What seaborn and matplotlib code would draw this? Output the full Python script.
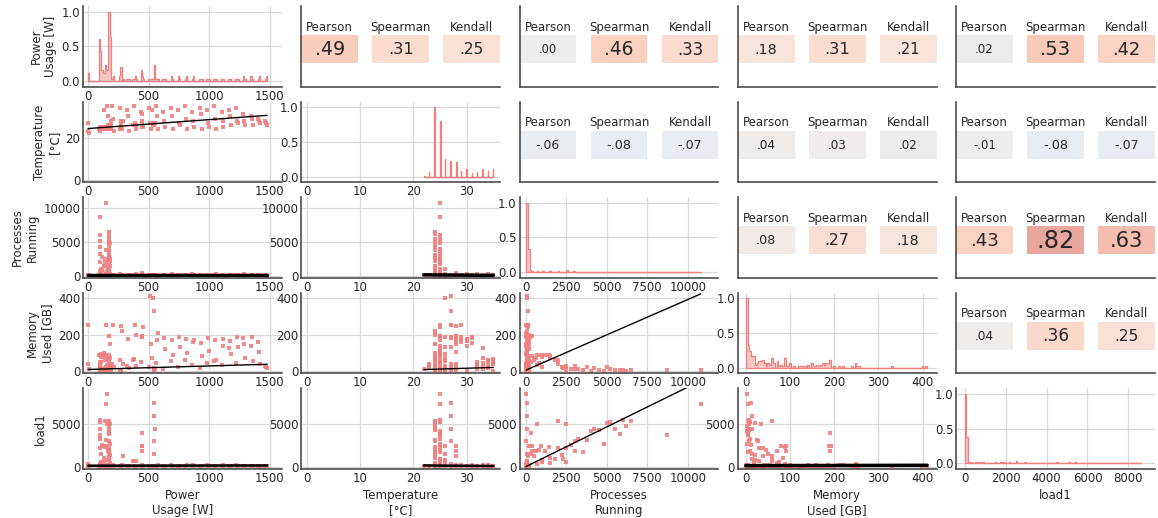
import numpy as np
import pandas as pd
import matplotlib
matplotlib.use("Agg")
import matplotlib.pyplot as plt
import seaborn as sns

# ---------------- data ----------------
var_names = ["power", "temperature", "processes", "memory", "load1"]
axis_labels = ["Power\nUsage [W]", "Temperature\n[°C]", "Processes\nRunning",
               "Memory\nUsed [GB]", "load1"]

# main mass of readings
power_main = [96, 97, 98, 99, 100, 100, 101, 102, 103, 104,
              105, 108, 112, 118, 124, 130, 136, 142, 148, 154,
              160, 165, 170, 172, 174, 176, 177, 178, 179, 180,
              180, 181, 182, 183, 184, 185, 186, 187, 189, 192,
              99, 101, 178, 181, 183, 100, 98, 179, 185, 102,
              268, 270, 271, 272]
temp_main = [24, 24, 25, 24, 24, 25, 24, 25, 24, 24,
             25, 24, 25, 24, 25, 33, 25, 24, 25, 35,
             25, 24, 30, 25, 24, 24, 25, 24, 24, 25,
             24, 25, 24, 24, 25, 24, 25, 24, 28, 26,
             24, 25, 24, 25, 24, 23, 24, 26, 24, 25,
             24, 25, 24, 26]
procs_main = [40, 80, 120, 30, 60, 150, 90, 20, 110, 70,
              50, 130, 25, 95, 160, 45, 75, 35, 140, 65,
              85, 15, 180, 55, 100, 200, 40, 125, 60, 90,
              30, 170, 75, 50, 110, 20, 145, 35, 80, 60,
              10, 95, 70, 130, 45, 25, 115, 55, 190, 85,
              40, 70, 30, 90]
mem_main = [90, 2, 0, 3, 1, 5, 2, 8, 1, 4,
            2, 12, 95, 3, 1, 9, 100, 15, 250, 1,
            3, 7, 2, 1, 5, 0, 190, 4, 1, 3,
            6, 1, 2, 150, 3, 1, 2, 20, 4, 1,
            0, 2, 1, 3, 2, 35, 1, 4, 2, 50,
            3, 1, 6, 2]
load_main = [20, 50, 10, 80, 35, 5, 60, 25, 90, 40,
             15, 70, 30, 110, 45, 0, 55, 20, 130, 65,
             35, 10, 85, 50, 25, 150, 40, 75, 15, 60,
             30, 95, 20, 45, 120, 10, 70, 35, 55, 25,
             5, 80, 40, 100, 20, 60, 30, 140, 15, 50,
             25, 60, 10, 45]

# readings spread over the whole power range
power_stripes = [202, 210, 218, 262, 270, 278, 322, 330, 338, 382, 390, 398, 442, 450, 458,
                 502, 510, 518, 532, 540, 548, 562, 570, 578, 622, 630, 638, 682, 690, 698,
                 742, 750, 758, 802, 810, 818, 862, 870, 878, 922, 930, 938, 982, 990, 998,
                 1042, 1050, 1058, 1102, 1110, 1118, 1162, 1170, 1178, 1222, 1230, 1238,
                 1282, 1290, 1298, 1342, 1350, 1358, 1402, 1410, 1418, 1462, 1470, 1478]
temp_stripes = [35, 29, 23, 34, 28, 24, 33, 30, 23, 35, 27, 24, 32, 31, 25,
                34, 27, 24, 33, 26, 27, 35, 30, 24, 32, 28, 25, 34, 30, 24,
                33, 27, 26, 35, 29, 24, 32, 28, 25, 34, 31, 24, 33, 27, 25,
                35, 29, 24, 32, 28, 25, 33, 30, 26, 34, 28, 27,
                31, 28, 26, 30, 29, 26, 29, 28, 27, 28, 27, 26]
procs_stripes = [30, 120, 60, 200, 40, 90, 15, 150, 70, 110, 25, 180, 60, 90, 140,
                 35, 80, 20, 150, 45, 110, 70, 130, 15, 95, 50, 160, 40, 210, 75,
                 120, 30, 85, 55, 140, 25, 180, 65, 100, 20, 90, 130, 75, 160, 45,
                 100, 35, 190, 60, 120, 15, 140, 50, 85, 30, 110, 65,
                 90, 170, 40, 55, 20, 125, 150, 80, 35, 45, 95, 10]
mem_stripes = [40, 252, 20, 60, 247, 220, 30, 178, 15, 65, 255, 200, 50, 186, 240,
               22, 410, 150, 70, 398, 330, 45, 173, 210, 10, 181, 120, 55, 168, 90,
               25, 189, 130, 62, 176, 100, 35, 160, 170, 17, 152, 80, 42, 183, 110,
               58, 171, 63, 33, 175, 140, 125, 163, 93, 47, 187, 133,
               180, 148, 72, 140, 184, 55, 158, 102, 38, 30, 20, 15]
load_stripes = [60, 150, 20, 90, 40, 200, 30, 110, 70, 120, 10, 80, 50, 170, 95,
                25, 60, 40, 130, 35, 75, 80, 20, 160, 45, 100, 15, 140, 55, 90,
                35, 120, 65, 100, 25, 180, 70, 140, 30, 15, 85, 110, 160, 45, 60,
                20, 130, 75, 95, 40, 150, 55, 110, 25, 140, 60, 85,
                30, 100, 50, 75, 20, 120, 45, 90, 15, 65, 35, 110]

# busy nodes: many processes and high load
power_busy = [176, 178, 100, 175, 177, 103, 176, 180, 174, 101,
              176, 150, 178, 100, 175, 120, 176, 140, 179, 102,
              176, 130, 177, 110, 178, 160, 150, 105, 145, 185,
              170, 180, 100, 176, 178, 178]
temp_busy = [24, 24, 25, 25, 24, 25, 24, 25, 24, 24,
             25, 24, 25, 25, 24, 25, 24, 25, 24, 25,
             25, 24, 24, 25, 25, 24, 25, 24, 25, 24,
             26, 24, 24, 25, 24, 24]
procs_busy = [6500, 6200, 6000, 5800, 5500, 5200, 5000, 4800, 4500, 4200,
              4000, 3800, 3500, 3200, 3000, 2800, 2500, 2500, 2200, 2000,
              1800, 1500, 1200, 1000, 800, 680, 400, 300, 2000, 2500,
              1000, 1500, 700, 2300, 500, 3000]
mem_busy = [5, 3, 8, 4, 6, 10, 20, 2, 7, 15,
            3, 25, 4, 9, 28, 12, 30, 18, 22, 40,
            60, 85, 90, 75, 45, 35, 80, 50, 60, 8,
            20, 70, 88, 15, 60, 10]
load_busy = [5400, 4800, 5500, 3900, 4500, 5300, 5200, 2700, 4300, 4400,
             4200, 3200, 1700, 3300, 3000, 2600, 2200, 600, 1400, 2200,
             900, 1000, 1800, 600, 2000, 5100, 2400, 1500, 5400, 5100,
             800, 400, 300, 900, 1200, 1900]

# load spikes and outliers
power_spike = [157, 150, 103, 549, 548, 550, 546, 547, 445, 443, 446, 444,
               290, 370, 395, 120, 140, 165, 5, 3, 8]
temp_spike = [25, 25, 25, 27, 27, 27, 27, 26, 25, 26, 28, 28,
              28, 26, 26, 25, 24, 24, 27, 23, 22]
procs_spike = [20, 10800, 8700, 60, 40, 80, 30, 50, 300, 250, 200, 350,
               120, 90, 70, 900, 1400, 600, 30, 20, 60]
mem_spike = [2, 5, 5, 12, 15, 10, 8, 14, 190, 188, 192, 190,
             40, 60, 30, 90, 88, 70, 250, 40, 10]
load_spike = [8600, 7400, 3700, 7500, 6000, 4500, 3000, 1500, 4000, 2500, 2500, 1800,
              1300, 700, 700, 2500, 2300, 1900, 300, 100, 50]

df = pd.DataFrame({
    "power": power_main + power_stripes + power_busy + power_spike,
    "temperature": temp_main + temp_stripes + temp_busy + temp_spike,
    "processes": procs_main + procs_stripes + procs_busy + procs_spike,
    "memory": mem_main + mem_stripes + mem_busy + mem_spike,
    "load1": load_main + load_stripes + load_busy + load_spike,
})

# correlation coefficients shown in the upper triangle (row var, col var)
corr_pairs = [(0, 1), (0, 2), (0, 3), (0, 4), (1, 2), (1, 3), (1, 4), (2, 3), (2, 4), (3, 4)]
pearson = [.49, .00, .18, .02, -.06, .04, -.01, .08, .43, .04]
spearman = [.31, .46, .31, .53, -.08, .03, -.08, .27, .82, .36]
kendall = [.25, .33, .21, .42, -.07, .02, -.07, .18, .63, .25]
method_names = ["Pearson", "Spearman", "Kendall"]

# fitted regression lines in the lower triangle (row var = y, col var = x)
reg_pairs = [(1, 0), (2, 0), (2, 1), (3, 0), (3, 1), (3, 2), (4, 0), (4, 1), (4, 2), (4, 3)]
reg_intercept = [24.3, 120, 250, 9, -11.3, 5.7, 110, 250, 10, 120]
reg_slope = [0.0042, 0.0, -6.0, 0.0193, 0.9, 0.0386, 0.02, -5.0, 0.94, 0.1]

# ---------------- style / layout ----------------
sns.set_theme(style="whitegrid", rc={
    "axes.edgecolor": "0.3", "axes.linewidth": 1.2,
    "grid.color": "0.85", "grid.linewidth": 0.9,
    "xtick.labelsize": 8.5, "ytick.labelsize": 8.5, "axes.labelsize": 8.5,
    "text.color": "0.15", "xtick.color": "0.15", "ytick.color": "0.15",
    "axes.labelcolor": "0.15",
    "xtick.major.size": 0, "ytick.major.size": 0,
    "xtick.major.pad": 2, "ytick.major.pad": 2, "axes.labelpad": 3,
})
plt.rcParams["font.family"] = ["DejaVu Sans"]

point_color = "#f08080"
xlims = {"power": (-40, 1600), "temperature": (-1, 36.3), "processes": (-400, 11900),
         "memory": (-18, 432), "load1": (-420, 9300)}
ylims = {"temperature": (-1, 37), "processes": (-350, 11700),
         "memory": (-13, 430), "load1": (-280, 9300)}
xticks = {"power": [0, 500, 1000, 1500], "temperature": [0, 10, 20, 30],
          "processes": [0, 2500, 5000, 7500, 10000], "memory": [0, 100, 200, 300, 400],
          "load1": [0, 2000, 4000, 6000, 8000]}
yticks = {"temperature": [0, 20], "processes": [0, 5000, 10000],
          "memory": [0, 200, 400], "load1": [0, 5000]}
reg_lw = {(2, 0): 2.5, (2, 1): 2.5, (4, 3): 2.5, (4, 0): 1.8, (4, 1): 1.8}

cmap = plt.get_cmap("coolwarm")
norm = plt.Normalize(-1, 1)

fig, axes = plt.subplots(5, 5, figsize=(11.58, 5.18), dpi=100)
fig.subplots_adjust(left=83 / 1158, right=1155 / 1158, top=1 - 6 / 518,
                    bottom=1 - 469 / 518, wspace=0.097, hspace=0.18)

n = len(var_names)
for i in range(n):
    for j in range(n):
        ax = axes[i, j]
        xv, yv = var_names[j], var_names[i]
        if i == j:
            vals = df[xv].to_numpy(dtype=float)
            edges = np.linspace(vals.min(), vals.max(), 151 if xv == "power" else 101)
            counts, _ = np.histogram(vals, bins=edges)
            hd = pd.DataFrame({"v": vals, "w": np.full(len(vals), 1.0 / counts.max())})
            sns.histplot(data=hd, x="v", weights="w", bins=list(edges), ax=ax,
                         element="step", fill=True, color=point_color, alpha=0.45,
                         linewidth=0.9)
            ax.set_ylim(-0.08, 1.08)
            ax.set_yticks([0, 0.5, 1.0])
            ax.set_xlim(*xlims[xv])
            ax.set_xticks(xticks[xv])
            sns.despine(ax=ax)
        elif i > j:
            sns.scatterplot(x=df[xv].to_numpy(), y=df[yv].to_numpy(), ax=ax,
                            color=point_color, s=5, marker="s", linewidth=0,
                            alpha=0.9, legend=False)
            k = reg_pairs.index((i, j))
            xs = np.array([df[xv].min(), df[xv].max()], dtype=float)
            ys = reg_intercept[k] + reg_slope[k] * xs
            ax.plot(xs, ys, color="black", lw=reg_lw.get((i, j), 1.0))
            ax.set_xlim(*xlims[xv])
            ax.set_ylim(*ylims[yv])
            ax.set_xticks(xticks[xv])
            ax.set_yticks(yticks[yv])
            sns.despine(ax=ax)
        else:
            k = corr_pairs.index((i, j))
            vals3 = [pearson[k], spearman[k], kendall[k]]
            cols = [cmap(norm(v)) for v in vals3]
            ax.bar([0, 1, 2], [0.35] * 3, bottom=0.29, width=0.8, color=cols,
                   alpha=0.5, linewidth=0)
            for m, v in enumerate(vals3):
                ax.text(m, 0.74, method_names[m], ha="center", va="center",
                        fontsize=8.5, color="0.15")
                label = f"{v:.2f}".replace("0.", ".")
                ax.text(m, 0.46, label, ha="center", va="center",
                        fontsize=8.3 + 11 * abs(v), color="0.15")
            ax.set_xlim(-0.4, 2.4)
            ax.set_ylim(0, 1)
            ax.grid(False)
            ax.set_xticks([])
            ax.set_yticks([])
            sns.despine(ax=ax)
        ax.set_xlabel(axis_labels[j] if i == n - 1 else "")
        ax.set_ylabel(axis_labels[i] if j == 0 else "")

fig.savefig("out.png", dpi=100)
